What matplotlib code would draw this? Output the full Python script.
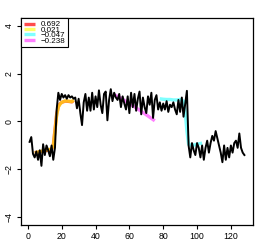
import numpy as np
import matplotlib
matplotlib.use("Agg")
import matplotlib.pyplot as plt

plt.rcParams['font.family'] = ['Liberation Sans', 'DejaVu Sans']

# noisy signal, x = 1..128
signal = [
    -0.85, -0.65, -1.35, -1.5, -1.25, -1.6, -1.2, -1.85, -0.95, -1.4,
    -1.0, -1.2, -1.45, -1.0, -1.6, -1.1,
    0.5, 1.2, 0.9, 1.15, 1.0, 1.1, 0.95, 1.1, 1.0, 1.05, 0.95, 1.0, 0.55, 0.95,
    0.35, -0.15, 0.8, 1.15, 0.45, 1.0, 0.45, 1.2, 0.5, 1.05,
    0.6, 1.3, 0.7, 0.35, 1.15, 1.25, 0.05, 0.9, 1.35, 0.85,
    1.2, 1.0, 0.9, 1.15, 0.6, 1.05, 0.75, 0.5, 1.05, 0.35,
    1.2, 0.6, 1.15, 0.45, 0.95, 1.25, 0.3, 1.0, 0.6, 0.35,
    1.05, 0.7, 1.2, 0.15, 0.9,
    1.1, 0.5, 0.8, 0.45, 0.75, 0.5, 0.85, 0.4, 0.7, 0.6,
    0.8, 0.5, 0.3, 0.9, 0.4, 1.0, 0.2, 0.75, 1.28,
    -1.0,
    -1.5, -0.9, -1.2, -1.4, -0.9, -1.1, -1.5, -1.0, -1.6, -1.1,
    -0.8, -1.3, -0.9, -0.6, -0.8, -0.4, -0.7, -1.0, -1.3, -1.7,
    -1.0, -1.6, -1.1, -1.5, -1.0, -1.3, -0.9, -0.8, -1.1, -0.5,
    -1.1, -1.3, -1.4,
]
x_signal = np.arange(1, len(signal) + 1)

# fitted pieces
red_x = [4, 6, 8, 10, 12, 14, 15, 16, 17, 18, 19, 20, 22, 24, 26, 27]
red_y = [-1.3, -1.28, -1.25, -1.22, -1.2, -1.15, -1.0, -0.35, 0.3, 0.62, 0.74, 0.8, 0.85, 0.84, 0.82, 0.88]
yellow_x = [4, 6, 8, 10, 12, 14, 15, 16, 17, 18, 19, 20, 22, 24, 26, 27]
yellow_y = [-1.32, -1.27, -1.24, -1.2, -1.18, -1.14, -1.02, -0.4, 0.25, 0.6, 0.72, 0.8, 0.86, 0.85, 0.83, 0.9]
cyan_x = [78, 80, 82, 84, 86, 88, 90, 92, 93, 94, 95, 97, 100, 103]
cyan_y = [0.95, 0.93, 0.92, 0.92, 0.9, 0.9, 0.92, 0.85, 0.4, -0.4, -0.95, -1.0, -0.95, -0.9]
violet_x = [51, 55, 60, 65, 70, 75]
violet_y = [1.12, 0.97, 0.75, 0.52, 0.28, 0.03]

labels = ["0.692", "0.021", "\u22120.047", "\u22120.238"]

fig = plt.figure(figsize=(2.73, 2.45), dpi=100)
ax = fig.add_axes([21 / 273, 20 / 245, 232 / 273, 207 / 245])

ax.plot(red_x, red_y, color=(1, 0, 0), alpha=0.7, lw=2.4, label=labels[0], solid_capstyle="butt")
ax.plot(yellow_x, yellow_y, color=(1, 1, 0), alpha=0.6, lw=2.4, label=labels[1], solid_capstyle="butt")
ax.plot(cyan_x, cyan_y, color=(0, 1, 1), alpha=0.5, lw=2.4, label=labels[2], solid_capstyle="butt")
ax.plot(violet_x, violet_y, color=(1, 0, 1), alpha=0.5, lw=2.4, label=labels[3], solid_capstyle="butt")
ax.plot(x_signal, signal, color="black", lw=1.4)

ax.set_xlim(1 - 0.04 * 127, 128 + 0.04 * 127)
ax.set_ylim(-4.32, 4.32)
ax.set_xticks([0, 20, 40, 60, 80, 100, 120])
ax.set_yticks([-4, -2, 0, 2, 4])
ax.tick_params(labelsize=6.3, length=3, width=0.8, pad=2)
for lab in ax.get_yticklabels():
    lab.set_rotation(90)
    lab.set_va("center")
for sp in ax.spines.values():
    sp.set_linewidth(0.9)

leg = ax.legend(loc="upper left", borderaxespad=0, fontsize=5.8, labelspacing=-0.28,
                handlelength=1.4, handletextpad=0.7, borderpad=0.35,
                fancybox=False, framealpha=1, edgecolor="black")
leg.get_frame().set_linewidth(0.8)

fig.savefig("out.png", dpi=100)
